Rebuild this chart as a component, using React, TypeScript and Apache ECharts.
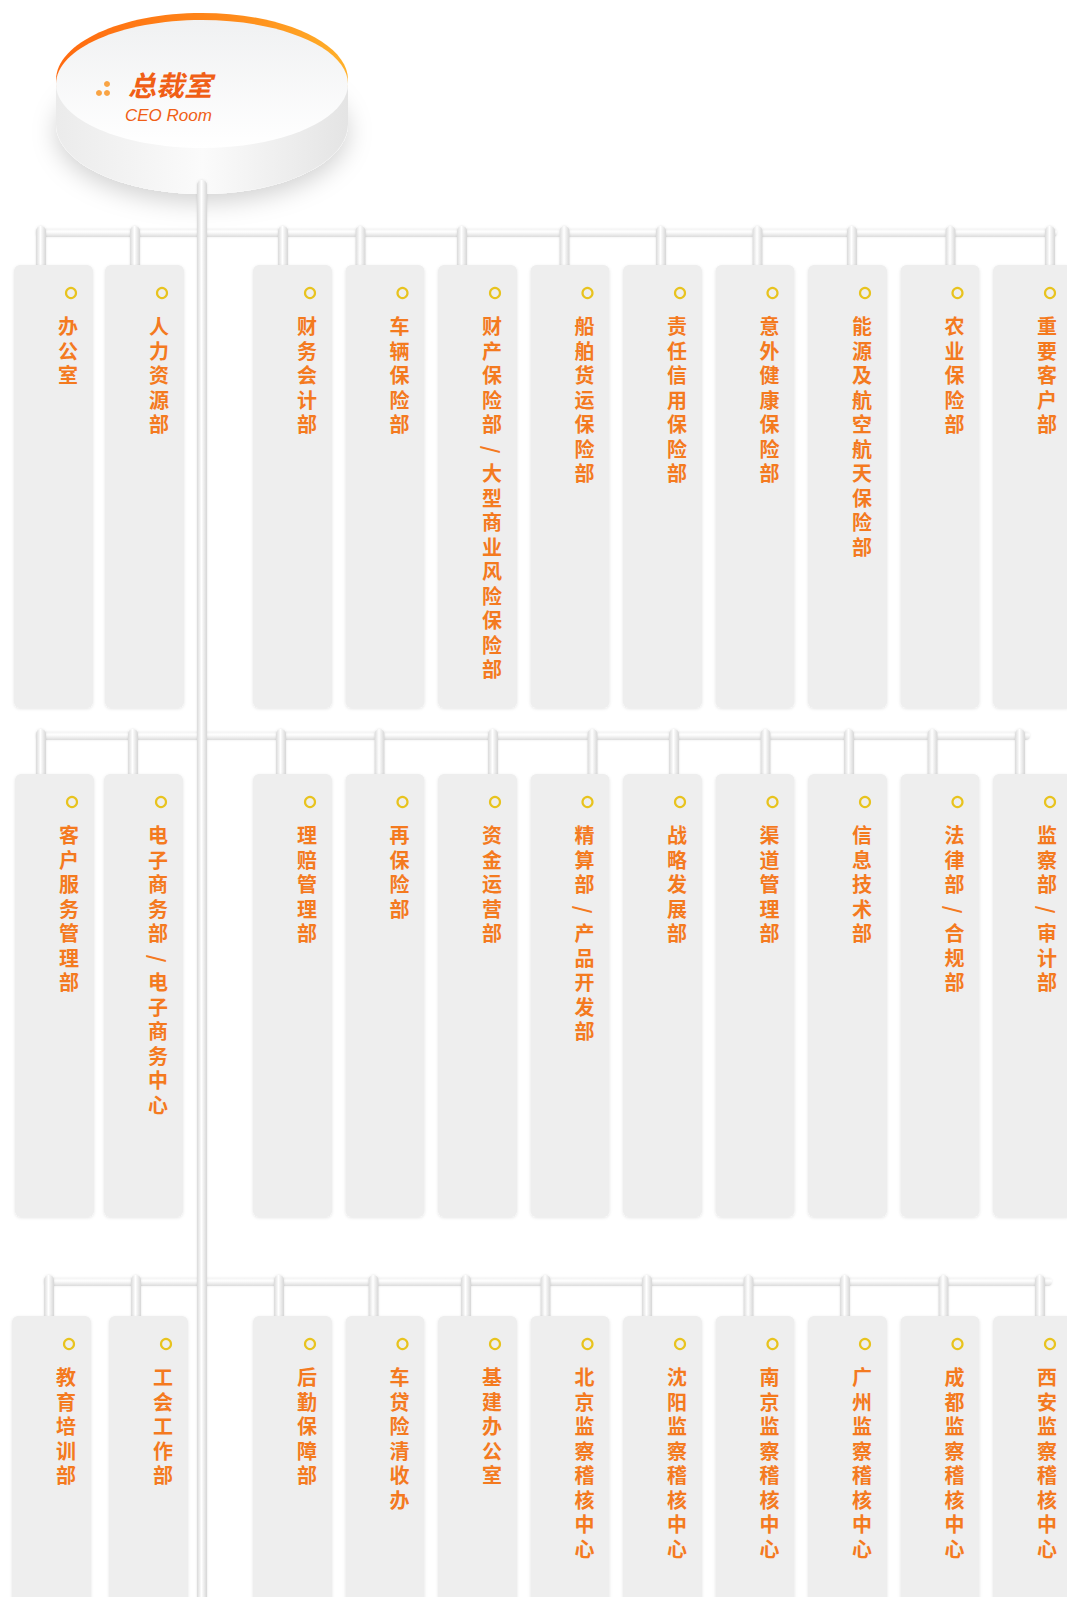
import React, { useEffect, useRef } from "react";
import * as echarts from "echarts";

// ---- content ----
const ceoTitle = "总裁室";
const ceoSubtitle = "CEO Room";
const row1 = [
  "办公室",
  "人力资源部",
  "财务会计部",
  "车辆保险部",
  "财产保险部/大型商业风险保险部",
  "船舶货运保险部",
  "责任信用保险部",
  "意外健康保险部",
  "能源及航空航天保险部",
  "农业保险部",
  "重要客户部",
];
const row2 = [
  "客户服务管理部",
  "电子商务部/电子商务中心",
  "理赔管理部",
  "再保险部",
  "资金运营部",
  "精算部/产品开发部",
  "战略发展部",
  "渠道管理部",
  "信息技术部",
  "法律部/合规部",
  "监察部/审计部",
];
const row3 = [
  "教育培训部",
  "工会工作部",
  "后勤保障部",
  "车贷险清收办",
  "基建办公室",
  "北京监察稽核中心",
  "沈阳监察稽核中心",
  "南京监察稽核中心",
  "广州监察稽核中心",
  "成都监察稽核中心",
  "西安监察稽核中心",
];

// ---- layout (kept apart from content) ----
const W = 1067;
const H = 1597;
const rowTops = [265, 774, 1316];
const rowBottoms = [708, 1217, 1640];
const barY = [233, 736, 1282];
const barX = [
  [36, 1057],
  [36, 1030],
  [44, 1052],
];
const leftCols = [[14, 105], [15, 104], [12, 109]];
const rightStart = 253;
const rightPitch = 92.5;
const connOffsets = [
  [27, 30, 30, 15, 24, 34, 38, 42, 44, 50, 57],
  [26, 29, 28, 34, 55, 62, 51, 50, 41, 32, 27],
  [37, 27, 26, 28, 28, 15, 24, 33, 37, 43, 47],
];
const cardW = 79;
const pitch = 24.5;
const textStart = 62;
const orange = "#f47a1f";
const cardFont = 'bold 20px "Liberation Sans", "Noto Sans CJK SC", sans-serif';

function cardLeft(row: number, i: number) {
  return i < 2 ? leftCols[row][i] : rightStart + (i - 2) * rightPitch;
}

function tube(horizontal: boolean) {
  return horizontal
    ? {
        type: "linear", x: 0, y: 0, x2: 0, y2: 1,
        colorStops: [
          { offset: 0, color: "#f4f4f4" },
          { offset: 0.35, color: "#ffffff" },
          { offset: 1, color: "#dcdcdc" },
        ],
      }
    : {
        type: "linear", x: 0, y: 0, x2: 1, y2: 0,
        colorStops: [
          { offset: 0, color: "#dadada" },
          { offset: 0.45, color: "#ffffff" },
          { offset: 1, color: "#d6d6d6" },
        ],
      };
}

function buildGraphics() {
  const els: any[] = [];
  const rows = [row1, row2, row3];

  // horizontal bars
  rows.forEach((_, r) => {
    els.push({
      type: "rect",
      shape: { x: barX[r][0], y: barY[r] - 4, width: barX[r][1] - barX[r][0], height: 8, r: 4 },
      style: { fill: tube(true), shadowBlur: 2, shadowColor: "rgba(0,0,0,0.08)" },
    });
  });

  // connectors
  rows.forEach((names, r) => {
    names.forEach((_, i) => {
      const cx = cardLeft(r, i) + connOffsets[r][i];
      els.push({
        type: "rect",
        shape: { x: cx - 5, y: barY[r] - 7, width: 10, height: rowTops[r] - barY[r] + 12, r: [5, 5, 0, 0] },
        style: { fill: tube(false), shadowBlur: 2, shadowColor: "rgba(0,0,0,0.1)" },
      });
    });
  });

  // cards
  rows.forEach((names, r) => {
    names.forEach((name, i) => {
      const left = cardLeft(r, i);
      const top = rowTops[r];
      els.push({
        type: "rect",
        shape: { x: left, y: top, width: cardW, height: rowBottoms[r] - top, r: 6 },
        style: { fill: "#eeeeee", shadowBlur: 3, shadowColor: "rgba(0,0,0,0.10)", shadowOffsetY: 1 },
      });
      els.push({
        type: "circle",
        shape: { cx: left + 57, cy: top + 28, r: 5 },
        style: { fill: "#eeeeee", stroke: "#e8c31e", lineWidth: 2.2 },
      });
      // vertical text: segments split at "/" (the slash is turned like in vertical writing)
      const segs = name.split("/");
      let k = 0;
      segs.forEach((seg, s) => {
        const chars = Array.from(seg);
        els.push({
          type: "text",
          x: left + 54,
          y: top + textStart - pitch / 2 + k * pitch,
          style: {
            text: chars.join("\n"),
            fill: orange,
            font: cardFont,
            lineHeight: pitch,
            align: "center",
            verticalAlign: "top",
          },
        });
        k += chars.length;
        if (s < segs.length - 1) {
          els.push({
            type: "text",
            x: left + 54,
            y: top + textStart + k * pitch,
            rotation: -Math.PI / 2,
            style: {
              text: "/",
              fill: orange,
              font: 'bold 20px "Noto Sans CJK SC"',
              lineHeight: 12,
              align: "center",
              verticalAlign: "middle",
            },
          });
          k += 1;
        }
      });
    });
  });

  // CEO disc
  const sideFill = {
    type: "linear", x: 0, y: 0, x2: 1, y2: 0,
    colorStops: [
      { offset: 0, color: "#ebebeb" },
      { offset: 0.5, color: "#fbfbfb" },
      { offset: 1, color: "#e4e4e4" },
    ],
  };
  els.push({
    type: "ellipse",
    shape: { cx: 202, cy: 124, rx: 146, ry: 70 },
    style: { fill: "#ffffff", shadowBlur: 24, shadowColor: "rgba(0,0,0,0.18)", shadowOffsetY: 8 },
  });
  els.push({
    type: "rect",
    shape: { x: 56, y: 80, width: 292, height: 44 },
    style: { fill: sideFill },
  });
  els.push({
    type: "ellipse",
    shape: { cx: 202, cy: 124, rx: 146, ry: 70 },
    style: { fill: sideFill },
  });
  // orange rim
  els.push({
    type: "ellipse",
    shape: { cx: 202, cy: 80, rx: 146, ry: 67 },
    style: {
      fill: {
        type: "linear", x: 0, y: 0, x2: 1, y2: 0,
        colorStops: [
          { offset: 0, color: "#ff6a10" },
          { offset: 0.6, color: "#ff8a1a" },
          { offset: 1, color: "#ffb12a" },
        ],
      },
    },
  });
  // top face
  els.push({
    type: "ellipse",
    shape: { cx: 202, cy: 84, rx: 146, ry: 64 },
    style: {
      fill: {
        type: "linear", x: 0, y: 0, x2: 0, y2: 1,
        colorStops: [
          { offset: 0, color: "#f0f1f2" },
          { offset: 1, color: "#ffffff" },
        ],
      },
    },
  });
  // dots icon
  [
    [107, 84],
    [99, 93],
    [107, 93],
  ].forEach(([cx, cy]) => {
    els.push({ type: "circle", shape: { cx, cy, r: 3 }, style: { fill: "#f9a444" } });
  });
  els.push({
    type: "text",
    x: 128,
    y: 84,
    style: {
      text: ceoTitle,
      fill: "#f05f16",
      font: 'italic bold 28px "Noto Sans CJK SC"',
      lineHeight: 24,
      verticalAlign: "middle",
    },
  });
  els.push({
    type: "text",
    x: 125,
    y: 115,
    style: {
      text: ceoSubtitle,
      fill: "#f05f16",
      font: 'italic 17px "Liberation Sans"',
      lineHeight: 16,
      verticalAlign: "middle",
    },
  });

  // main trunk
  els.push({
    type: "rect",
    shape: { x: 197, y: 180, width: 10, height: H - 180 + 10, r: [5, 5, 0, 0] },
    style: { fill: tube(false), shadowBlur: 2, shadowColor: "rgba(0,0,0,0.1)" },
  });

  return els;
}

export default function App() {
  const ref = useRef<HTMLDivElement>(null);
  useEffect(() => {
    if (!ref.current) return;
    const chart = echarts.init(ref.current, undefined, { renderer: "svg" });
    chart.setOption({
      animation: false,
      backgroundColor: "#ffffff",
      graphic: buildGraphics(),
    });
    return () => chart.dispose();
  }, []);
  return (
    <div
      ref={ref}
      style={{ position: "absolute", left: 0, top: 0, width: W, height: H, background: "#fff" }}
    />
  );
}
